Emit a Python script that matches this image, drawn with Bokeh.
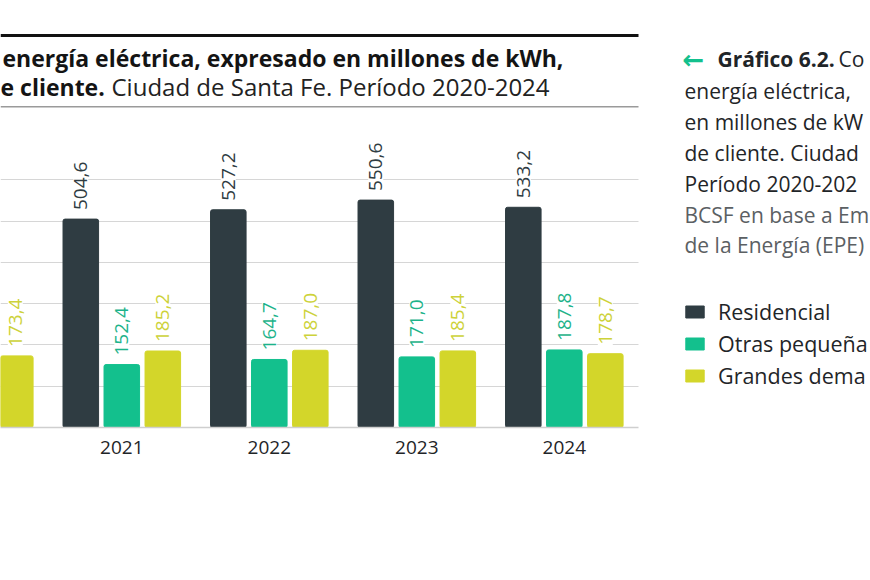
import math
from bokeh.plotting import figure
from bokeh.models import (ColumnDataSource, FixedTicker, Label, BoxAnnotation,
                          Legend, LegendItem, Range1d)
from bokeh.core.properties import value
from bokeh.transform import dodge
from bokeh.embed import file_html
from bokeh.resources import INLINE

# ---------------- data ----------------
years = ["2020", "2021", "2022", "2023", "2024"]
residencial = [float("nan"), 504.6, 527.2, 550.6, 533.2]
otras = [float("nan"), 152.4, 164.7, 171.0, 187.8]
grandes = [173.4, 185.2, 187.0, 185.4, 178.7]
series_names = ["Residencial", "Otras pequeña", "Grandes dema"]
grid_ticks = [0, 100, 200, 300, 400, 500, 600]

title_bold_1 = "energía eléctrica, expresado en millones de kWh,"
title_bold_2 = "e cliente."
title_reg_2 = "Ciudad de Santa Fe. Período 2020-2024"
caption_bold = "Gráfico 6.2."
caption_reg_1 = "Co"
caption_lines = ["energía eléctrica,", "en millones de kW", "de cliente. Ciudad",
                 "Período 2020-202"]
source_lines = ["BCSF en base a Em", "de la Energía (EPE)"]

# ---------------- style / layout ----------------
W, H = 870, 580
FONT = "Open Sans"
DARK = "#2f3c42"
GREEN = "#13c08d"
YELLOW = "#d3d62a"
GREEN_TXT = "#1db38a"
YELLOW_TXT = "#cdd23a"
TXT = "#1f2528"

PX_PER_GROUP = 147.5
X0 = 1 - 121.3 / PX_PER_GROUP    # left edge of the frame in data units
X1 = X0 + W / PX_PER_GROUP       # frame spans the whole canvas width
CHART_END = X0 + 638 / PX_PER_GROUP
FRAME_BOTTOM = 427               # page pixel of the baseline
PX_PER_UNIT = 0.413
Y1 = FRAME_BOTTOM / PX_PER_UNIT
TEXT_SHIFT = 9                   # label baseline correction (px)


def fmt(v):
    return "" if v != v else f"{v:.1f}".replace(".", ",")


xs = list(range(len(years)))
src = ColumnDataSource(dict(
    x=xs, res=residencial, otr=otras, gra=grandes,
    res_l=[fmt(v) for v in residencial],
    otr_l=[fmt(v) for v in otras],
    gra_l=[fmt(v) for v in grandes],
))

p = figure(width=W, height=H, output_backend="svg", toolbar_location=None,
           x_range=Range1d(X0, X1), y_range=Range1d(0, Y1),
           min_border_left=0, min_border_top=0, min_border_right=0,
           min_border_bottom=H - FRAME_BOTTOM)
p.outline_line_color = None
p.background_fill_color = "white"
p.border_fill_color = "white"

# grid (limited to the chart area)
p.xgrid.visible = False
p.ygrid.ticker = FixedTicker(ticks=grid_ticks)
p.ygrid.grid_line_color = "#d6d6d6"
p.ygrid.grid_line_width = 1.2
try:
    p.ygrid.cross_bounds = (X0, CHART_END)
except Exception:
    p.ygrid.visible = False
    p.segment(x0=X0, x1=CHART_END, y0=grid_ticks, y1=grid_ticks,
              line_color="#d6d6d6", line_width=1.2)

OFF = 0.278
BW = 0.241
renderers = []
for col, off, color in [("res", -OFF, DARK), ("otr", 0.0, GREEN), ("gra", OFF, YELLOW)]:
    r = p.vbar(x=dodge("x", off, range=p.x_range), top=col, width=BW, source=src,
               fill_color=color, line_color=color, border_radius=2)
    renderers.append(r)

for col, off, color in [("res", -OFF, DARK), ("otr", 0.0, GREEN_TXT), ("gra", OFF, YELLOW_TXT)]:
    p.text(x=dodge("x", off, range=p.x_range), y=col, text=col + "_l", source=src,
           angle=math.pi / 2, text_align="left", text_baseline="middle",
           y_offset=-8, text_font=value(FONT), text_font_size="19px", text_color=color,
           background_fill_color="white", padding=1)

# x axis
p.xaxis.ticker = FixedTicker(ticks=xs)
p.xaxis.major_label_overrides = {i: y for i, y in enumerate(years)}
p.xaxis.bounds = (X0, CHART_END)
p.xaxis.axis_line_color = "#cfcfcf"
p.xaxis.axis_line_width = 1.5
p.xaxis.major_tick_line_color = None
p.xaxis.minor_tick_line_color = None
p.xaxis.major_label_text_font = FONT
p.xaxis.major_label_text_font_size = "19px"
p.xaxis.major_label_text_color = TXT
p.xaxis.major_label_standoff = 7
p.yaxis.visible = False


# helpers: page pixel -> frame screen units (x from frame left, y from frame bottom)
def sx(X):
    return X


def sy(Y):
    return FRAME_BOTTOM - Y


def lab(text, X, Y, size, color=TXT, style="normal", font=FONT):
    p.add_layout(Label(x=sx(X), y=sy(Y - TEXT_SHIFT), x_units="screen", y_units="screen",
                       text=text, text_font=font, text_font_size=f"{size}px",
                       text_color=color, text_font_style=style,
                       text_baseline="alphabetic", text_align="left"))


# title block rules
p.add_layout(BoxAnnotation(left=sx(0), right=sx(638), top=sy(33.5), bottom=sy(36.5),
                           left_units="screen", right_units="screen",
                           top_units="screen", bottom_units="screen",
                           fill_color="#111111", fill_alpha=1, line_color=None))
p.add_layout(BoxAnnotation(left=sx(0), right=sx(638), top=sy(105.5), bottom=sy(107),
                           left_units="screen", right_units="screen",
                           top_units="screen", bottom_units="screen",
                           fill_color="#9a9a9a", fill_alpha=1, line_color=None))

lab(title_bold_1, 2, 66, 23, color="#141414", style="bold")
lab(title_bold_2, 0, 95, 23, color="#141414", style="bold")
lab(title_reg_2, 111, 95, 24, color="#222222")

# caption on the right
lab("\u2190", 682, 68, 26, color=GREEN, style="bold", font="DejaVu Sans")
lab(caption_bold, 717, 67, 21, style="bold")
lab(caption_reg_1, 838, 67, 21)
for t, Y in zip(caption_lines, [99, 130, 161, 192]):
    lab(t, 684, Y, 21)
for t, Y in zip(source_lines, [223, 253]):
    lab(t, 684, Y, 21, color="#5b6063")

legend = Legend(items=[LegendItem(label=n, renderers=[r]) for n, r in zip(series_names, renderers)],
                location=(sx(683), sy(390)), orientation="vertical",
                glyph_width=23, glyph_height=15, label_standoff=12, spacing=3,
                label_height=26, label_text_font=FONT, label_text_font_size="21.5px",
                label_text_color=TXT, padding=0, margin=0,
                border_line_color=None, background_fill_alpha=0)
p.add_layout(legend, "center")

open("out.html", "w").write(file_html(p, INLINE))
